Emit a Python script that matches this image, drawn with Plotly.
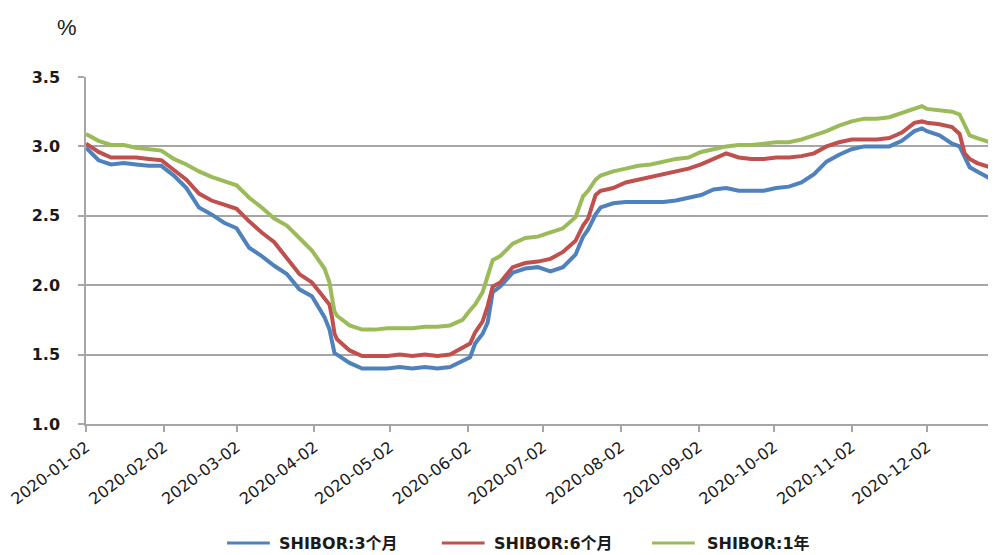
import plotly.graph_objects as go

# ── Data ────────────────────────────────────────────────────────────────────
dates = [
    "2020-01-02", "2020-01-07", "2020-01-12", "2020-01-17", "2020-01-22", "2020-01-27",
    "2020-02-01", "2020-02-06", "2020-02-11", "2020-02-16", "2020-02-21", "2020-02-26",
    "2020-03-02", "2020-03-07", "2020-03-12", "2020-03-17", "2020-03-22", "2020-03-27",
    "2020-04-01", "2020-04-06", "2020-04-08", "2020-04-09", "2020-04-10",
    "2020-04-11", "2020-04-16", "2020-04-21", "2020-04-26", "2020-05-01", "2020-05-06",
    "2020-05-11", "2020-05-16", "2020-05-21", "2020-05-26", "2020-05-31",
    "2020-06-03", "2020-06-05", "2020-06-08", "2020-06-10", "2020-06-12",
    "2020-06-15", "2020-06-20", "2020-06-25", "2020-06-30", "2020-07-05", "2020-07-10",
    "2020-07-15", "2020-07-18", "2020-07-20", "2020-07-23",
    "2020-07-25", "2020-07-30", "2020-08-04", "2020-08-09", "2020-08-14", "2020-08-19",
    "2020-08-24", "2020-08-29", "2020-09-03", "2020-09-08", "2020-09-13", "2020-09-18",
    "2020-09-23", "2020-09-28", "2020-10-03", "2020-10-08", "2020-10-13", "2020-10-18",
    "2020-10-23", "2020-10-28", "2020-11-02", "2020-11-07", "2020-11-12", "2020-11-17",
    "2020-11-22", "2020-11-27", "2020-11-30", "2020-12-02", "2020-12-07", "2020-12-12",
    "2020-12-15", "2020-12-17", "2020-12-19", "2020-12-22", "2020-12-27", "2020-12-30",
]

shibor_3m = [
    2.99, 2.90, 2.87, 2.88, 2.87, 2.86, 2.86, 2.79, 2.70, 2.56, 2.51, 2.45,
    2.41, 2.27, 2.21, 2.14, 2.08, 1.97, 1.92, 1.77, 1.68, 1.58, 1.51,
    1.50, 1.44, 1.40, 1.40, 1.40, 1.41, 1.40, 1.41, 1.40, 1.41, 1.45,
    1.48, 1.58, 1.65, 1.73, 1.95,
    1.99, 2.09, 2.12, 2.13, 2.10, 2.13, 2.22, 2.35, 2.40, 2.51,
    2.56, 2.59, 2.60, 2.60, 2.60, 2.60, 2.61, 2.63, 2.65, 2.69, 2.70, 2.68,
    2.68, 2.68, 2.70, 2.71, 2.74, 2.80, 2.89, 2.94, 2.98, 3.00, 3.00, 3.00,
    3.04, 3.11, 3.13, 3.11, 3.08, 3.02, 3.00, 2.92, 2.85, 2.82, 2.77, 2.76,
]

shibor_6m = [
    3.02, 2.96, 2.92, 2.92, 2.92, 2.91, 2.90, 2.83, 2.76, 2.66, 2.61, 2.58,
    2.55, 2.46, 2.38, 2.31, 2.20, 2.08, 2.02, 1.91, 1.86, 1.77, 1.65,
    1.61, 1.53, 1.49, 1.49, 1.49, 1.50, 1.49, 1.50, 1.49, 1.50, 1.55,
    1.58, 1.66, 1.74, 1.85, 1.99,
    2.02, 2.13, 2.16, 2.17, 2.19, 2.24, 2.32, 2.43, 2.48, 2.65,
    2.68, 2.70, 2.74, 2.76, 2.78, 2.80, 2.82, 2.84, 2.87, 2.91, 2.95, 2.92,
    2.91, 2.91, 2.92, 2.92, 2.93, 2.95, 3.00, 3.03, 3.05, 3.05, 3.05, 3.06,
    3.10, 3.17, 3.18, 3.17, 3.16, 3.14, 3.09, 2.95, 2.91, 2.88, 2.85, 2.84,
]

shibor_1y = [
    3.09, 3.04, 3.01, 3.01, 2.99, 2.98, 2.97, 2.91, 2.87, 2.82, 2.78, 2.75,
    2.72, 2.63, 2.56, 2.48, 2.43, 2.34, 2.25, 2.12, 2.02, 1.91, 1.81,
    1.78, 1.71, 1.68, 1.68, 1.69, 1.69, 1.69, 1.70, 1.70, 1.71, 1.75,
    1.82, 1.86, 1.95, 2.06, 2.18,
    2.21, 2.30, 2.34, 2.35, 2.38, 2.41, 2.49, 2.64, 2.68, 2.76,
    2.79, 2.82, 2.84, 2.86, 2.87, 2.89, 2.91, 2.92, 2.96, 2.98, 3.00, 3.01,
    3.01, 3.02, 3.03, 3.03, 3.05, 3.08, 3.11, 3.15, 3.18, 3.20, 3.20, 3.21,
    3.24, 3.27, 3.29, 3.27, 3.26, 3.25, 3.23, 3.15, 3.08, 3.06, 3.03, 3.02,
]

series_names = ["SHIBOR:3个月", "SHIBOR:6个月", "SHIBOR:1年"]

tick_dates = [
    "2020-01-02", "2020-02-02", "2020-03-02", "2020-04-02", "2020-05-02", "2020-06-02",
    "2020-07-02", "2020-08-02", "2020-09-02", "2020-10-02", "2020-11-02", "2020-12-02",
]
y_ticks = [1.0, 1.5, 2.0, 2.5, 3.0, 3.5]

# ── Style ───────────────────────────────────────────────────────────────────
COLORS = ["#4F81BD", "#C0504D", "#9BBB59"]
GRID = "#a6a6a6"
TEXT = "#1a1a1a"
FONT = "DejaVu Sans, Noto Sans CJK SC, sans-serif"

# legend entries drawn by hand (paper coords): line start, line end, text start
LEGEND_POS = [(0.155, 0.202, 0.210), (0.391, 0.438, 0.446), (0.622, 0.669, 0.680)]
LEGEND_Y = -0.343

# the page body has an 8px margin, so margins are shifted to compensate
fig = go.Figure()

for name, vals, col in zip(series_names, [shibor_3m, shibor_6m, shibor_1y], COLORS):
    fig.add_trace(go.Scatter(
        x=dates, y=vals, name=name, mode="lines",
        line=dict(color=col, width=4),
        hoverinfo="skip",
    ))

for name, col, (x0, x1, xt) in zip(series_names, COLORS, LEGEND_POS):
    fig.add_shape(
        type="line", xref="paper", yref="paper",
        x0=x0, x1=x1, y0=LEGEND_Y, y1=LEGEND_Y,
        line=dict(color=col, width=3),
    )
    fig.add_annotation(
        x=xt, y=LEGEND_Y, xref="paper", yref="paper",
        xanchor="left", yanchor="middle",
        text=f"<b>{name}</b>", showarrow=False,
        font=dict(size=16, color=TEXT),
    )

fig.add_annotation(
    x=-0.021, y=1.144, xref="paper", yref="paper",
    xanchor="center", yanchor="middle",
    text="%", showarrow=False,
    font=dict(family="Liberation Sans", size=22, color=TEXT),
)

fig.update_layout(
    width=996, height=555,
    margin=dict(l=78, r=8, t=69, b=139),
    plot_bgcolor="white", paper_bgcolor="white",
    font=dict(family=FONT, color=TEXT),
    showlegend=False,
    xaxis=dict(
        type="date",
        range=["2020-01-02", "2020-12-29 12:00"],
        tickvals=tick_dates,
        ticktext=tick_dates,
        tickangle=-37,
        tickfont=dict(size=16, color=TEXT),
        ticklabeloverflow="allow",
        ticks="outside", ticklen=6, tickcolor=GRID, tickwidth=1.5,
        showgrid=False,
        showline=True, linecolor=GRID, linewidth=1.5,
        automargin=False,
    ),
    yaxis=dict(
        range=[1.0, 3.5],
        tickvals=y_ticks,
        tickformat=".1f",
        tickfont=dict(size=16, color=TEXT, weight="bold"),
        ticks="outside", ticklen=6, tickcolor=GRID, tickwidth=1.5,
        ticklabelstandoff=15,
        showgrid=True, gridcolor=GRID, gridwidth=1.5,
        showline=True, linecolor=GRID, linewidth=1.5,
        zeroline=False,
        automargin=False,
    ),
)

fig.write_html("out.html")
